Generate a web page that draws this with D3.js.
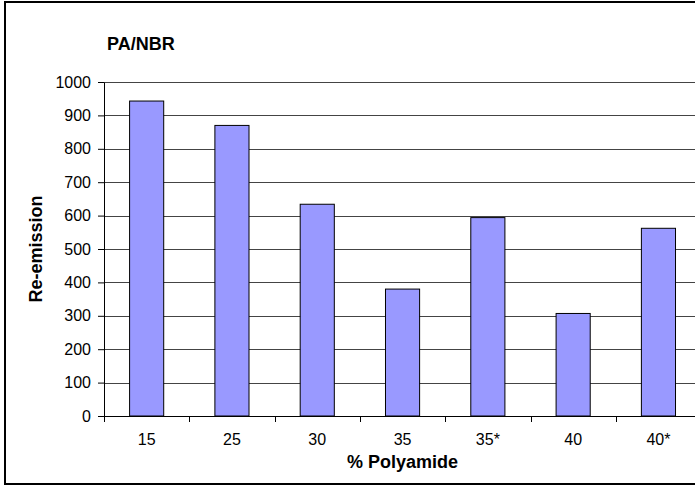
<!DOCTYPE html>
<html>
<head>
<meta charset="utf-8">
<script src="https://cdn.jsdelivr.net/npm/d3@7"></script>
<style>
  body { margin: 0; background: #fff; }
  svg { display: block; font-family: "Liberation Sans", Arial, sans-serif; }
</style>
</head>
<body>
<script>
// data
const categories = ["15", "25", "30", "35", "35*", "40", "40*"];
const reEmission = [943, 870, 634, 380, 594, 307, 562];
const yTicks = [0, 100, 200, 300, 400, 500, 600, 700, 800, 900, 1000];

const canvWidth = 695, canvHeight = 487;
const svg = d3.select("body").append("svg")
    .attr("width", canvWidth)
    .attr("height", canvHeight);

// outer chart border (runs off the right edge like the original)
svg.append("rect")
    .attr("x", 5)
    .attr("y", 2)
    .attr("width", 760)
    .attr("height", 482)
    .attr("fill", "#fff")
    .attr("stroke", "#000")
    .attr("stroke-width", 2);

// plot area
const plot = { left: 104, top: 82, bottom: 416, step: 85.3 };
const plotRight = plot.left + plot.step * categories.length;

const xScale = d3.scaleBand()
    .domain(categories)
    .range([plot.left, plotRight])
    .paddingInner(0.6)
    .paddingOuter(0.3);

const yScale = d3.scaleLinear()
    .domain([0, 1000])
    .range([plot.bottom, plot.top]);

// gridlines
svg.append("g")
    .selectAll("line")
    .data(yTicks.filter(d => d > 0))
    .enter()
    .append("line")
    .attr("x1", plot.left)
    .attr("x2", canvWidth)
    .attr("y1", d => Math.round(yScale(d)) + 0.5)
    .attr("y2", d => Math.round(yScale(d)) + 0.5)
    .attr("stroke", "#444")
    .attr("stroke-width", 1.2);

// bars
svg.append("g")
    .selectAll("rect")
    .data(categories)
    .enter()
    .append("rect")
    .attr("x", d => xScale(d))
    .attr("y", (d, i) => yScale(reEmission[i]))
    .attr("width", xScale.bandwidth())
    .attr("height", (d, i) => plot.bottom - yScale(reEmission[i]))
    .attr("fill", "#9999ff")
    .attr("stroke", "#000")
    .attr("stroke-width", 1);

// y axis
const yAxis = d3.axisLeft(yScale)
    .tickValues(yTicks)
    .tickFormat(d3.format("d"))
    .tickSize(6)
    .tickPadding(7)
    .tickSizeOuter(0);
const yG = svg.append("g")
    .attr("transform", "translate(" + plot.left + ",0)")
    .call(yAxis);
yG.selectAll("text").attr("font-size", "16px").attr("fill", "#000").attr("font-family", null);
yG.selectAll("line, path").attr("stroke", "#000");

// x axis: labels centred on bars, ticks on category boundaries
const xAxis = d3.axisBottom(xScale)
    .tickSize(0)
    .tickPadding(18)
    .tickSizeOuter(0);
const xG = svg.append("g")
    .attr("transform", "translate(0," + plot.bottom + ")")
    .call(xAxis);
xG.select(".domain").remove();
xG.selectAll("text").attr("font-size", "16px").attr("fill", "#000").attr("font-family", null);

const boundaries = categories.map(c => xScale(c) - xScale.step() * 0.3);
boundaries.push(plotRight);
svg.append("g")
    .selectAll("line")
    .data(boundaries)
    .enter()
    .append("line")
    .attr("x1", d => Math.round(d) + 0.5)
    .attr("x2", d => Math.round(d) + 0.5)
    .attr("y1", plot.bottom)
    .attr("y2", plot.bottom + 6)
    .attr("stroke", "#000");

svg.append("line")
    .attr("x1", plot.left)
    .attr("x2", canvWidth)
    .attr("y1", plot.bottom + 0.5)
    .attr("y2", plot.bottom + 0.5)
    .attr("stroke", "#000");

// titles
svg.append("text")
    .attr("x", 107)
    .attr("y", 50)
    .attr("font-size", "18px")
    .attr("font-weight", "bold")
    .text("PA/NBR");

svg.append("text")
    .attr("x", plot.left + (plotRight - plot.left) / 2)
    .attr("y", 468)
    .attr("font-size", "18px")
    .attr("font-weight", "bold")
    .style("text-anchor", "middle")
    .text("% Polyamide");

svg.append("text")
    .attr("transform", "translate(42," + (plot.top + plot.bottom) / 2 + ") rotate(-90)")
    .attr("font-size", "18px")
    .attr("font-weight", "bold")
    .style("text-anchor", "middle")
    .text("Re-emission");
</script>
</body>
</html>
